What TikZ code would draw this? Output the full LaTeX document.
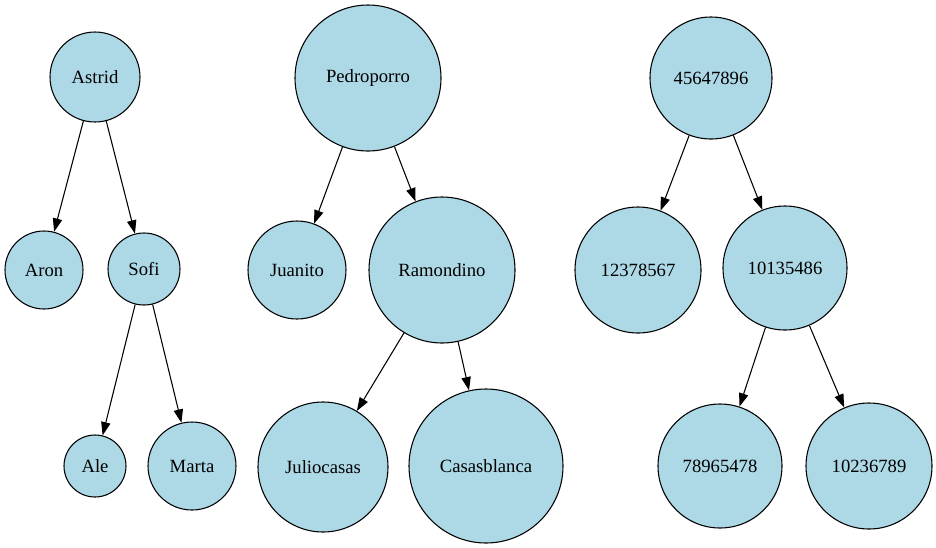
\documentclass[tikz,border=0pt]{standalone}
\usepackage{fontspec}
\setmainfont{Liberation Serif}
\usetikzlibrary{arrows.meta}
\definecolor{nodeblue}{HTML}{ADD8E6}

\begin{document}
\begin{tikzpicture}[x=0.75pt,y=-0.75pt,font=\fontsize{14}{16}\selectfont,
  person/.style={circle,draw=black,fill=nodeblue,inner sep=0pt,line width=0.8pt,minimum size=#1*0.75pt},
  link/.style={-{Triangle[length=10pt,width=7pt]},line width=0.8pt}]
  \useasboundingbox (0,0) rectangle (936,547);
  % first tree
  \node[person=90] (astrid) at (95,77) {Astrid};
  \node[person=78] (aron) at (44,270) {Aron};
  \node[person=72] (sofi) at (144,269) {Sofi};
  \node[person=62] (ale) at (95,466) {Ale};
  \node[person=88] (marta) at (192,466) {Marta};
  % second tree
  \node[person=146] (pedroporro) at (368,78) {Pedroporro};
  \node[person=98] (juanito) at (297,270) {Juanito};
  \node[person=146] (ramondino) at (442,270) {Ramondino};
  \node[person=130] (juliocasas) at (323,467) {Juliocasas};
  \node[person=154] (casasblanca) at (486,466) {Casasblanca};
  % third tree
  \node[person=122] (n45647896) at (711,78) {45647896};
  \node[person=126] (n12378567) at (638,270) {12378567};
  \node[person=124] (n10135486) at (785,268) {10135486};
  \node[person=124] (n78965478) at (720,466) {78965478};
  \node[person=126] (n10236789) at (869,466) {10236789};
  \draw[link] (astrid) -- (aron);
  \draw[link] (astrid) -- (sofi);
  \draw[link] (sofi) -- (ale);
  \draw[link] (sofi) -- (marta);
  \draw[link] (pedroporro) -- (juanito);
  \draw[link] (pedroporro) -- (ramondino);
  \draw[link] (ramondino) -- (juliocasas);
  \draw[link] (ramondino) -- (casasblanca);
  \draw[link] (n45647896) -- (n12378567);
  \draw[link] (n45647896) -- (n10135486);
  \draw[link] (n10135486) -- (n78965478);
  \draw[link] (n10135486) -- (n10236789);
\end{tikzpicture}
\end{document}
